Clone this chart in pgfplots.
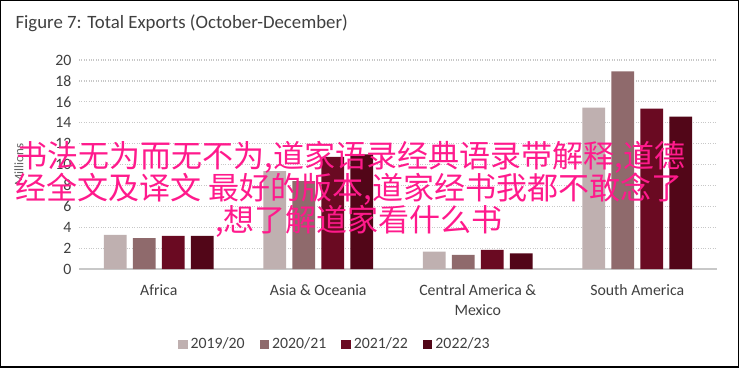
\documentclass[border=0pt]{standalone}
\usepackage{pgfplots}
\pgfplotsset{compat=1.18}
\usepackage{fontspec}
\setmainfont{Carlito}
\newfontfamily\cjk{Noto Sans CJK SC}
\definecolor{cA}{RGB}{191,176,176}
\definecolor{cB}{RGB}{143,106,108}
\definecolor{cC}{RGB}{106,10,34}
\definecolor{cD}{RGB}{82,6,24}
\definecolor{txt}{RGB}{64,64,64}
\definecolor{gridc}{RGB}{200,200,200}
\definecolor{wm}{RGB}{255,26,140}
\begin{document}
\begin{tikzpicture}[x=1pt,y=1pt]
\useasboundingbox (0,0) rectangle (739,-367);
\fill[white] (0,0) rectangle (739,-367);
\node[anchor=west,text=txt,font=\fontsize{18.8}{20}\selectfont] at (12,-23) {Figure 7: Total Exports (October-December)};
\begin{axis}[
  at={(79pt,-269pt)}, anchor=south west,
  scale only axis, width=638pt, height=209pt,
  ymin=0, ymax=20, ytick={0,2,...,20},
  xmin=-0.5, xmax=3.5,
  xtick=data,
  xticklabels={Africa,Asia \& Oceania,Central America \&\\Mexico,South America},
  ybar=6.4pt, bar width=22.6pt,
  axis x line*=bottom, axis y line*=left,
  x axis line style={draw=gridc,line width=1.3pt,-},
  y axis line style={draw=none},
  major tick length=0pt,
  ymajorgrids, grid style={gridc,dotted,line width=1.2pt},
  /pgf/number format/assume math mode=true,
  tick label style={text=txt,font=\fontsize{15.8}{20}\selectfont},
  xticklabel style={align=center,yshift=-12pt},
  yticklabel style={xshift=-4pt},
  ylabel={Millions}, ylabel style={text=txt!80,font=\fontsize{13}{15}\selectfont,yshift=25pt},
  legend columns=4,
  legend style={at={(0.401,-0.36)},anchor=center,draw=none,fill=none,
    font=\fontsize{15.8}{18}\selectfont,text=txt,
    /tikz/every odd column/.append style={column sep=1pt},
    /tikz/every even column/.append style={column sep=13pt}},
  legend image code/.code={\fill[#1] (0pt,-5pt) rectangle (9.5pt,4.5pt);},
]
\addplot[fill=cA,draw=none] coordinates {(0,3.27) (1,9.36) (2,1.67) (3,15.45)};
\addplot[fill=cB,draw=none] coordinates {(0,2.95) (1,8.4) (2,1.35) (3,18.9)};
\addplot[fill=cC,draw=none] coordinates {(0,3.17) (1,10.74) (2,1.83) (3,15.35)};
\addplot[fill=cD,draw=none] coordinates {(0,3.17) (1,10.96) (2,1.5) (3,14.58)};
\legend{2019/20,2020/21,2021/22,2022/23}
\end{axis}
\begin{scope}[every node/.style={text=wm,font=\cjk\fontsize{31}{31}\selectfont,inner sep=0pt}]
\node at (351,-157) {书法无为而无不为,道家语录经典语录带解释,道德};
\node at (349,-189) {经全文及译文 最好的版本,道家经书我都不敢念了};
\node at (359,-221) {,想了解道家看什么书};
\end{scope}
\draw[black,line width=2pt] (0,0) rectangle (739,-367);
\end{tikzpicture}
\end{document}
